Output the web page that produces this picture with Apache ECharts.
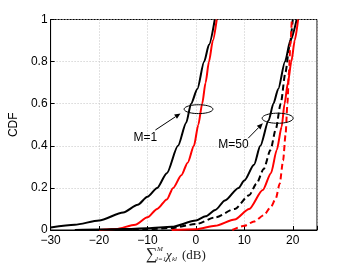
<!DOCTYPE html>
<html><head><meta charset="utf-8">
<script src="https://cdn.jsdelivr.net/npm/echarts@6/dist/echarts.min.js"></script>
<style>html,body{margin:0;padding:0;background:#fff}#c{width:349px;height:263px}</style>
</head><body><div id="c"></div>
<script>
// ---- data ----
const xTicks = [-30, -20, -10, 0, 10, 20];
const yTicks = [0, 0.2, 0.4, 0.6, 0.8, 1];

const m1BlackX = [-30, -25, -20, -15, -12, -10, -8, -6, -3.7, -2, -1, 0.3, 1.7, 2.7, 3.9];
const m1BlackY = [0.012, 0.025, 0.045, 0.083, 0.12, 0.158, 0.2, 0.27, 0.4, 0.51, 0.6, 0.67, 0.8, 0.88, 1.0];

const m1RedX = [-20, -16.5, -12.5, -10, -8, -6, -4.7, -3, -1.7, -0.4, 0.5, 1.3, 2, 2.7, 3.5, 4.3];
const m1RedY = [0, 0.005, 0.025, 0.06, 0.1, 0.145, 0.2, 0.26, 0.32, 0.4, 0.5, 0.6, 0.7, 0.8, 0.9, 1.0];

const m50BlackX = [-25, -20, -15, -10, -5, 0, 2, 4, 6, 8.8, 10, 12, 13.3, 15, 16, 17, 18.4, 19.5, 20.8];
const m50BlackY = [0, 0.002, 0.005, 0.008, 0.015, 0.045, 0.065, 0.095, 0.14, 0.2, 0.235, 0.31, 0.4, 0.52, 0.6, 0.67, 0.8, 0.9, 1.0];

const m50BlackDashX = [-15, -10, -5, 0, 4, 8, 11, 12.5, 14, 15.4, 16.5, 17.5, 18.5, 19.3, 20];
const m50BlackDashY = [0, 0.003, 0.01, 0.028, 0.06, 0.1, 0.165, 0.22, 0.29, 0.38, 0.48, 0.6, 0.75, 0.87, 1.0];

const m50RedX = [-5, 0, 4, 8, 11, 13.8, 15.5, 16.7, 17.7, 18.3, 19, 19.7, 20.4, 21.1];
const m50RedY = [0, 0.003, 0.02, 0.05, 0.1, 0.19, 0.27, 0.38, 0.49, 0.6, 0.7, 0.8, 0.9, 1.0];

const m50RedDashX = [7.5, 10, 12, 14, 15.5, 16.5, 17.3, 18, 18.5, 18.9, 19.2, 19.5, 19.8];
const m50RedDashY = [0, 0.02, 0.04, 0.07, 0.11, 0.15, 0.22, 0.33, 0.45, 0.6, 0.75, 0.88, 1.0];

// annotations: [cx, cy, rx, ry]
const ellipses = [[0.54, 0.574, 2.97, 0.021], [16.88, 0.531, 3.2, 0.024]];
// arrows: [x0, y0, x1(tip), y1(tip)]
const arrows = [[-8.36, 0.475, -3.17, 0.554], [10.79, 0.436, 13.82, 0.507]];
const labelText = ['M=1', 'M=50'];
const labelPos = [[-10.46, 0.437], [7.76, 0.404]];

const zip = (xs, ys) => xs.map((x, i) => [x, ys[i]]);
const fmtNum = v => (v < 0 ? '\u2212' + Math.abs(v) : String(v));

function lineSeries(name, xs, ys, color, dashed) {
  return {
    name, type: 'line', data: zip(xs, ys), showSymbol: false, symbol: 'none',
    smooth: 0.25, smoothMonotone: 'x', clip: true, animation: false,
    lineStyle: { color, width: 2, type: dashed ? [6, 3.5] : 'solid' }
  };
}

const chart = echarts.init(document.getElementById('c'), null, { renderer: 'canvas' });
const font = 'Liberation Sans, Arial, Helvetica, sans-serif';
const serif = '"Liberation Serif", "DejaVu Serif", serif';

chart.setOption({
  animation: false,
  backgroundColor: '#fff',
  grid: { left: 45, right: 32, top: 19.5, bottom: 33, show: true, borderColor: '#000', borderWidth: 1, backgroundColor: 'transparent' },
  xAxis: {
    type: 'value', min: -30, max: 25, interval: 10,
    axisLine: { show: true, onZero: false, lineStyle: { color: '#000', width: 1 } },
    axisTick: { show: true, inside: true, length: 4, lineStyle: { color: '#000' } },
    axisLabel: { color: '#000', fontSize: 12, fontFamily: font, margin: 5,
      formatter: v => (xTicks.includes(v) ? fmtNum(v) : '') },
    splitLine: { show: true, lineStyle: { color: '#c4c4c4', type: [1, 2], width: 1 } }
  },
  yAxis: {
    type: 'value', min: 0, max: 1, interval: 0.2,
    name: 'CDF', nameLocation: 'middle', nameGap: 27, nameRotate: 90,
    nameTextStyle: { color: '#000', fontSize: 12, fontFamily: font },
    axisLine: { show: true, onZero: false, lineStyle: { color: '#000', width: 1 } },
    axisTick: { show: true, inside: true, length: 4, lineStyle: { color: '#000' } },
    axisLabel: { color: '#000', fontSize: 12, fontFamily: font, margin: 3,
      formatter: v => { const t = yTicks.find(k => Math.abs(k - v) < 1e-9); return t === undefined ? '' : String(t); } },
    splitLine: { show: true, lineStyle: { color: '#c4c4c4', type: [1, 2], width: 1 } }
  },
  graphic: [
    { type: 'text', left: 146, top: 247, style: { text: '\u2211', font: '16px ' + serif, fill: '#222' } },
    { type: 'text', left: 157, top: 246, style: { text: 'M', font: 'italic 7px ' + serif, fill: '#222' } },
    { type: 'text', left: 156, top: 256, style: { text: 'l=1', font: 'italic 7px ' + serif, fill: '#222' } },
    { type: 'text', left: 166, top: 249, style: { text: '\u03c7', font: 'italic 13px ' + serif, fill: '#222' } },
    { type: 'text', left: 172, top: 256, style: { text: 'kl', font: 'italic 7px ' + serif, fill: '#222' } },
    { type: 'text', left: 182, top: 249, style: { text: '(dB)', font: '13px ' + serif, fill: '#222' } }
  ],
  series: [
    lineSeries('M1 black', m1BlackX, m1BlackY, '#000', false),
    lineSeries('M1 red', m1RedX, m1RedY, '#ff0000', false),
    lineSeries('M50 black', m50BlackX, m50BlackY, '#000', false),
    lineSeries('M50 black dashed', m50BlackDashX, m50BlackDashY, '#000', true),
    lineSeries('M50 red', m50RedX, m50RedY, '#ff0000', false),
    lineSeries('M50 red dashed', m50RedDashX, m50RedDashY, '#ff0000', true),
    {
      type: 'custom', data: ellipses, silent: true, z: 5,
      renderItem: (params, api) => {
        const cx = api.value(0), cy = api.value(1), rx = api.value(2), ry = api.value(3);
        const pts = [];
        for (let i = 0; i < 48; i++) {
          const a = (i / 48) * Math.PI * 2;
          pts.push(api.coord([cx + rx * Math.cos(a), cy + ry * Math.sin(a)]));
        }
        return { type: 'polygon', shape: { points: pts }, style: { fill: 'none', stroke: '#000', lineWidth: 1 } };
      }
    },
    {
      type: 'custom', data: arrows, silent: true, z: 5,
      renderItem: (params, api) => {
        const p0 = api.coord([api.value(0), api.value(1)]);
        const p1 = api.coord([api.value(2), api.value(3)]);
        const dx = p1[0] - p0[0], dy = p1[1] - p0[1], L = Math.hypot(dx, dy);
        const ux = dx / L, uy = dy / L, nx = -uy, ny = ux, hl = 6, hw = 2.6;
        const b = [p1[0] - ux * hl, p1[1] - uy * hl];
        return { type: 'group', children: [
          { type: 'line', shape: { x1: p0[0], y1: p0[1], x2: b[0], y2: b[1] }, style: { stroke: '#000', lineWidth: 1 } },
          { type: 'polygon', shape: { points: [p1, [b[0] + nx * hw, b[1] + ny * hw], [b[0] - nx * hw, b[1] - ny * hw]] }, style: { fill: '#000' } }
        ] };
      }
    },
    {
      type: 'custom', data: labelPos.map((p, i) => [p[0], p[1], i]), silent: true, z: 5,
      renderItem: (params, api) => {
        const p = api.coord([api.value(0), api.value(1)]);
        return { type: 'text', x: p[0], y: p[1], style: { text: labelText[api.value(2)], font: '12px ' + font, fill: '#000', align: 'center', verticalAlign: 'middle' } };
      }
    }
  ]
});
</script></body></html>
